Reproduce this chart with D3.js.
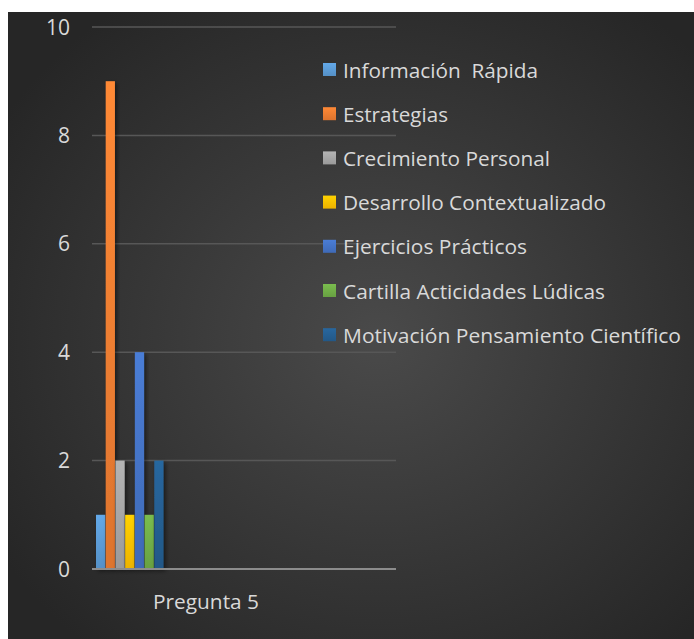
<!DOCTYPE html>
<html>
<head>
<meta charset="utf-8">
<script src="https://cdn.jsdelivr.net/npm/d3@7"></script>
<style>
  body { margin: 0; background: #fff; }
  text { font-family: "Open Sans", sans-serif; fill: #d9d9d9; white-space: pre; }
</style>
</head>
<body>
<div id="graph"></div>
<script>
var categories = ["Pregunta 5"];
var series = ["Información  Rápida", "Estrategias", "Crecimiento Personal", "Desarrollo Contextualizado",
              "Ejercicios Prácticos", "Cartilla Acticidades Lúdicas", "Motivación Pensamiento Científico"];
var values = [1, 9, 2, 1, 4, 1, 2];
var yTicks = [0, 2, 4, 6, 8, 10];
var colors = ["#5b9bd5", "#ed7d31", "#a5a5a5", "#ffc000", "#4472c4", "#70ad47", "#255e91"];
// legend text widths
var legendWidths = [195, 105, 207, 263, 184, 262, 338];

var W = 694, H = 639;
var svg = d3.select('#graph').append('svg')
  .attr("width", W).attr("height", H);

var defs = svg.append("defs");
var bg = defs.append("radialGradient").attr("id", "bg")
  .attr("cx", "54%").attr("cy", "52%").attr("r", "65%");
bg.append("stop").attr("offset", "0%").attr("stop-color", "#4a4a4a");
bg.append("stop").attr("offset", "100%").attr("stop-color", "#262626");

colors.forEach(function(c, i) {
  var g = defs.append("linearGradient").attr("id", "bar" + i)
    .attr("x1", 0).attr("y1", 0).attr("x2", 0).attr("y2", 1);
  g.append("stop").attr("offset", "0%").attr("stop-color", d3.color(c).brighter(0.25));
  g.append("stop").attr("offset", "100%").attr("stop-color", d3.color(c).darker(0.2));
});

var sh = defs.append("filter").attr("id", "shadow")
  .attr("x", "-50%").attr("y", "-10%").attr("width", "200%").attr("height", "130%");
sh.append("feDropShadow").attr("dx", 2).attr("dy", 2).attr("stdDeviation", 2)
  .attr("flood-color", "#000").attr("flood-opacity", 0.5);

svg.append("rect").attr("x", 8).attr("y", 12)
  .attr("width", W - 8).attr("height", H - 12)
  .attr("fill", "url(#bg)");

var plotL = 92, plotR = 396, plotT = 27, plotB = 569;

var y = d3.scaleLinear().domain([0, 10]).range([plotB, plotT]);
var x0 = d3.scaleBand().domain(categories).range([plotL, plotR]);
var x1 = d3.scaleBand().domain(series).range([4, 72]);

// gridlines
svg.selectAll(".grid")
  .data(yTicks.filter(function(d) { return d > 0; }))
  .enter().append("line")
  .attr("x1", plotL).attr("x2", plotR)
  .attr("y1", function(d) { return y(d); })
  .attr("y2", function(d) { return y(d); })
  .style("stroke", "#575757")
  .style("stroke-width", 1.5);

// y labels
svg.selectAll(".ylab")
  .data(yTicks)
  .enter().append("text")
  .attr("x", 70)
  .attr("y", function(d) { return y(d) + 7.5; })
  .attr("text-anchor", "end")
  .style("font-size", "21px")
  .text(function(d) { return d; });

// bars
var grp = svg.selectAll(".cat")
  .data(categories)
  .enter().append("g")
  .attr("transform", function(d) { return "translate(" + x0(d) + ",0)"; });

grp.selectAll("rect")
  .data(series.map(function(s, i) { return {name: s, value: values[i], i: i}; }))
  .enter().append("rect")
  .attr("x", function(d) { return x1(d.name); })
  .attr("width", x1.bandwidth() - 0.5)
  .attr("y", function(d) { return y(d.value); })
  .attr("height", function(d) { return y(0) - y(d.value); })
  .attr("fill", function(d) { return "url(#bar" + d.i + ")"; })
  .attr("filter", "url(#shadow)");

// axis line
svg.append("line")
  .attr("x1", plotL).attr("x2", plotR)
  .attr("y1", plotB).attr("y2", plotB)
  .style("stroke", "#8c8c8c")
  .style("stroke-width", 2);

// category label
svg.selectAll(".xlab")
  .data(categories)
  .enter().append("text")
  .attr("x", function(d) { return x0(d) + 61; })
  .attr("y", 609)
  .style("font-size", "20px")
  .attr("textLength", 106)
  .attr("lengthAdjust", "spacingAndGlyphs")
  .text(function(d) { return d; });

// legend
var leg = svg.selectAll(".leg")
  .data(series)
  .enter().append("g")
  .attr("transform", function(d, i) { return "translate(323," + (70 + i * 44.2) + ")"; });

leg.append("rect")
  .attr("x", 0).attr("y", -7)
  .attr("width", 13).attr("height", 13)
  .attr("fill", function(d, i) { return "url(#bar" + i + ")"; });

leg.append("text")
  .attr("x", 20).attr("y", 7.5)
  .style("font-size", "20px")
  .attr("textLength", function(d, i) { return legendWidths[i]; })
  .attr("lengthAdjust", "spacingAndGlyphs")
  .text(function(d) { return d; });
</script>
</body>
</html>
